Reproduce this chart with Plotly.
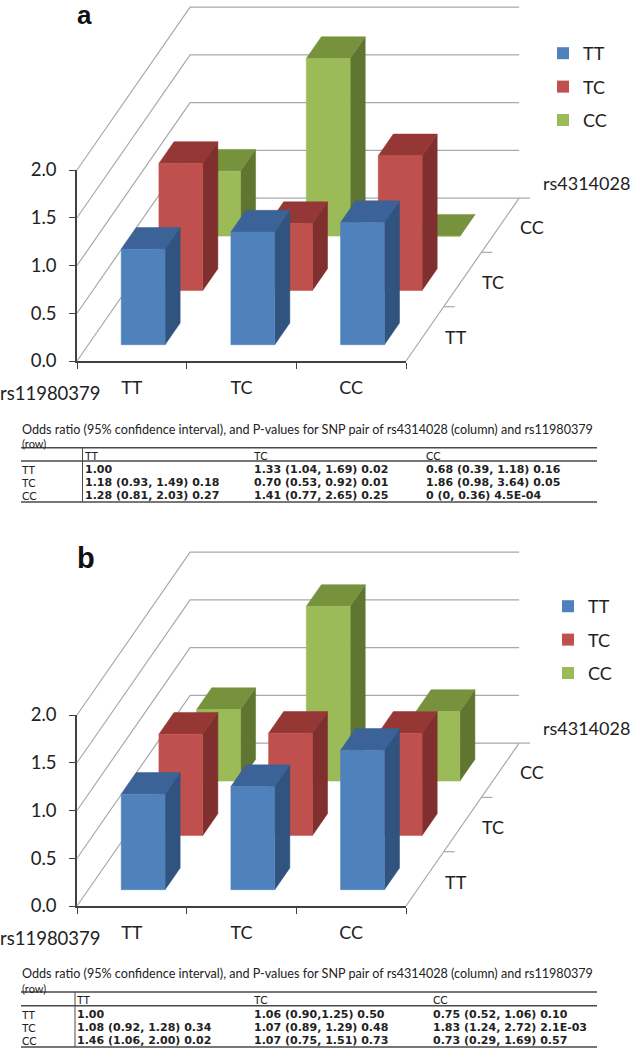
import plotly.graph_objects as go

W, H = 634, 1050
X_CATS = ["TT", "TC", "CC"]
DEPTH_CATS = ["TT", "TC", "CC"]
SERIES = ["TT", "TC", "CC"]
Y_TICKS = [0, 0.5, 1.0, 1.5, 2.0]

# odds ratio, x position = rs11980379 genotype, series = rs4314028 genotype
a_TT = [1.00, 1.18, 1.28]
a_TC = [1.33, 0.70, 1.41]
a_CC = [0.68, 1.86, 0.0]
b_TT = [1.00, 1.08, 1.46]
b_TC = [1.06, 1.07, 1.07]
b_CC = [0.75, 1.83, 0.73]

table_a = [
    ["TT", "1.00", "1.33 (1.04, 1.69) 0.02", "0.68 (0.39, 1.18) 0.16"],
    ["TC", "1.18 (0.93, 1.49) 0.18", "0.70 (0.53, 0.92) 0.01", "1.86 (0.98, 3.64) 0.05"],
    ["CC", "1.28 (0.81, 2.03) 0.27", "1.41 (0.77, 2.65) 0.25", "0 (0, 0.36) 4.5E-04"],
]
table_b = [
    ["TT", "1.00", "1.06 (0.90,1.25) 0.50", "0.75 (0.52, 1.06) 0.10"],
    ["TC", "1.08 (0.92, 1.28) 0.34", "1.07 (0.89, 1.29) 0.48", "1.83 (1.24, 2.72) 2.1E-03"],
    ["CC", "1.46 (1.06, 2.00) 0.02", "1.07 (0.75, 1.51) 0.73", "0.73 (0.29, 1.69) 0.57"],
]
table_title = "Odds ratio (95% confidence interval), and P-values for SNP pair of rs4314028 (column) and rs11980379"

FRONT = {"TT": "#4f81bd", "TC": "#c0504d", "CC": "#9bbb59"}
SIDE = {"TT": "#30537f", "TC": "#7f2f2d", "CC": "#5f7530"}
TOP = {"TT": "#3c6397", "TC": "#953735", "CC": "#76923c"}
GRID = "#a9a9a9"
AXIS = "#404040"
FONT = "Lato"
TITLE_SIZE = 12.6
ROW_LABEL_SIZE = 11
CELL_SIZE = 11
CELL_FONT = "DejaVu Sans"

# pixel scale of one x-cell / one value unit, and oblique depth step
CELL_PX, UNIT_PX = 109.67, 95.5
DX, DY = 37.7 / CELL_PX, 54.3 / UNIT_PX
BAR_GAP, BAR_SIZE = 0.3, 0.4
X0_PX = 77


def px(x):
    return x / W


def py(y):
    return 1 - y / H


def proj(x, d, v):
    return x + d * DX, v + d * DY


def poly(points):
    xs, ys = [], []
    for p in points:
        a, b = proj(*p)
        xs.append(a)
        ys.append(b)
    xs += [xs[0], None]
    ys += [ys[0], None]
    return xs, ys


fig = go.Figure()


def add_frame(xa, ya):
    xs, ys = [], []
    for v in Y_TICKS:
        for p in [(0, 0, v), (0, 3, v), (3.0, 3, v)]:
            a, b = proj(*p)
            xs.append(a)
            ys.append(b)
        xs.append(None)
        ys.append(None)
    for p, q in [((3, 0, 0), (3, 3, 0)), ((3, 1, 0), (3.1, 1, 0)), ((3, 2, 0), (3.1, 2, 0)),
                 ((3, 3, 0), (3.1, 3, 0))]:
        a, b = proj(*p)
        c, e = proj(*q)
        xs += [a, c, None]
        ys += [b, e, None]
    fig.add_trace(go.Scatter(x=xs, y=ys, mode="lines", line=dict(color=GRID, width=1.2),
                             xaxis=xa, yaxis=ya, showlegend=False, hoverinfo="skip"))


def add_bars(xa, ya, series_values):
    for depth in [2, 1, 0]:
        s = SERIES[depth]
        vals = series_values[depth]
        fx, fy, sx, sy, tx, ty = [], [], [], [], [], []
        for i, v in enumerate(vals):
            x0 = i + BAR_GAP
            x1 = x0 + BAR_SIZE
            d0 = depth + BAR_GAP
            d1 = d0 + BAR_SIZE
            a, b = poly([(x0, d0, 0), (x1, d0, 0), (x1, d0, v), (x0, d0, v)])
            fx += a; fy += b
            a, b = poly([(x1, d0, 0), (x1, d1, 0), (x1, d1, v), (x1, d0, v)])
            sx += a; sy += b
            a, b = poly([(x0, d0, v), (x1, d0, v), (x1, d1, v), (x0, d1, v)])
            tx += a; ty += b
        for xs, ys, col in [(sx, sy, SIDE[s]), (tx, ty, TOP[s]), (fx, fy, FRONT[s])]:
            fig.add_trace(go.Scatter(x=xs, y=ys, mode="lines", fill="toself", fillcolor=col,
                                     line=dict(color=col, width=0.5), xaxis=xa, yaxis=ya,
                                     showlegend=False, hoverinfo="skip"))


def add_legend(xa, ya, legend_name):
    for s in SERIES:
        fig.add_trace(go.Scatter(x=[None], y=[None], mode="markers", name=s, legend=legend_name,
                                 legendgroup=legend_name + s, xaxis=xa, yaxis=ya,
                                 marker=dict(symbol="square", size=12, color=FRONT[s])))


# x/y, x2/y2 carry the visible axes; x3/y3, x4/y4 are wide canvases on the same scale
add_legend("x", "y", "legend")
add_legend("x2", "y2", "legend2")
add_frame("x3", "y3")
add_bars("x3", "y3", [a_TT, a_TC, a_CC])
add_frame("x4", "y4")
add_bars("x4", "y4", [b_TT, b_TC, b_CC])

annotations = []
shapes = []


def text(x, y, s, size=18, bold=False, anchor="left", family=FONT, color="#222222"):
    annotations.append(dict(x=px(x), y=py(y), xref="paper", yref="paper", text=f"<b>{s}</b>" if bold else s,
                            showarrow=False, xanchor=anchor, yanchor="middle",
                            font=dict(size=size, family=family, color=color), borderpad=0))


def rule(x0, y0, x1, y1, width=1.4):
    shapes.append(dict(type="line", xref="paper", yref="paper", x0=px(x0), x1=px(x1), y0=py(y0), y1=py(y1),
                       line=dict(color="#4a4a4a", width=width)))


def add_table(rows, title_y, row_y, top, head_y, second, row_ys, bottom, vx, cols):
    text(21, title_y, table_title, size=TITLE_SIZE)
    text(21, row_y, "(row)", size=ROW_LABEL_SIZE)
    rule(21, top, 597, top)
    rule(21, second, 597, second)
    rule(21, bottom, 597, bottom)
    rule(vx, top, vx, bottom, 1)
    for name, c in zip(X_CATS, cols):
        text(c, head_y, name, size=ROW_LABEL_SIZE)
    for row, y in zip(rows, row_ys):
        text(21, y, row[0], size=ROW_LABEL_SIZE)
        for cell, c in zip(row[1:], cols):
            text(c, y, cell, size=CELL_SIZE, bold=True, family=CELL_FONT)


add_table(table_a, 429, 443, 447.7, 455, 461, [469.3, 482.7, 496], 502, 82.5, [84, 252.7, 425])
add_table(table_b, 973, 988, 992, 999, 1005.7, [1014, 1027.3, 1040.6], 1047, 75, [76, 252.7, 432])

for off, label, lsize, ly in [(0, "a", 26, 15.2), (545, "b", 29, 558)]:
    text(76, ly, label, size=lsize, bold=True, family="Liberation Sans", color="#111111")
    text(50, 393 + off, "rs11980379", size=18.5, anchor="center")
    text(586, 183 + off, "rs4314028", size=18, anchor="center")
    for name, x, y in zip(DEPTH_CATS, [456, 493, 532], [337, 282, 227]):
        text(x, y + off, name, size=18, anchor="center")


def axis_pair(n, y_bottom, y_top):
    sx = "" if n == 1 else str(n)
    fig.update_layout(**{
        "xaxis" + sx: dict(domain=[px(77), px(406)], range=[0, 3], tickvals=[0.5, 1.5, 2.5], ticktext=X_CATS,
                           ticks="", ticklen=0, showgrid=False, zeroline=False, showline=True, linecolor=AXIS,
                           linewidth=1.6, ticklabelstandoff=10, tickfont=dict(size=18, family=FONT, color="#222222"),
                           minor=dict(tickvals=[0, 1, 2, 3], ticks="outside", ticklen=6, tickcolor=AXIS, tickwidth=1.4),
                           anchor="y" + sx, fixedrange=True, automargin=False),
        "yaxis" + sx: dict(domain=[py(y_bottom), py(y_top)], range=[0, 2], tickvals=Y_TICKS,
                           tickformat=".1f", ticks="outside", ticklen=6, tickcolor=AXIS, tickwidth=1.4,
                           showgrid=False, zeroline=False, showline=True, linecolor=AXIS, linewidth=1.6,
                           ticklabelstandoff=9, tickfont=dict(size=18.5, family=FONT, color="#222222"),
                           anchor="x" + sx, fixedrange=True, automargin=False),
    })


def canvas(n, y_origin, top_px, bottom_px):
    # invisible axes over the whole width, sharing the visible axes' pixel scale
    fig.update_layout(**{
        f"xaxis{n}": dict(domain=[0, 1], range=[-X0_PX / CELL_PX, (W - X0_PX) / CELL_PX], visible=False,
                          anchor=f"y{n}", fixedrange=True, automargin=False),
        f"yaxis{n}": dict(domain=[py(bottom_px), py(top_px)],
                          range=[(y_origin - bottom_px) / UNIT_PX, (y_origin - top_px) / UNIT_PX], visible=False,
                          anchor=f"x{n}", fixedrange=True, automargin=False),
    })


axis_pair(1, 361, 170)
axis_pair(2, 906, 715)
canvas(3, 361, 0, 410)
canvas(4, 906, 545, 955)

legend_common = dict(xanchor="left", yanchor="top", bgcolor="rgba(0,0,0,0)", font=dict(size=18, family=FONT, color="#222222"),
                     tracegroupgap=7, itemclick=False, itemdoubleclick=False)
fig.update_layout(
    width=W, height=H, margin=dict(l=0, r=0, t=0, b=0), autosize=False,
    paper_bgcolor="white", plot_bgcolor="rgba(0,0,0,0)",
    legend=dict(x=px(543), y=py(35), **legend_common),
    legend2=dict(x=px(548), y=py(588), **legend_common),
    annotations=annotations, shapes=shapes,
)

fig.write_html("out.html", config={"displayModeBar": False},
               post_script="document.body.style.margin='0';document.body.style.overflow='hidden';")
